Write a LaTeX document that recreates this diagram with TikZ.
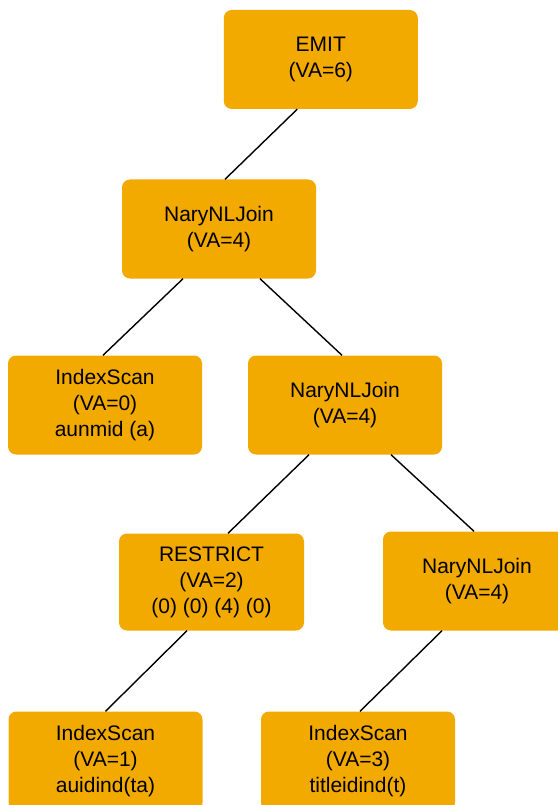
\documentclass[tikz,border=0pt]{standalone}
\usepackage{fontspec}
\setmainfont{Liberation Sans}
\usetikzlibrary{calc}
\definecolor{planorange}{RGB}{242,169,0}
\tikzset{
    opbox/.style={rectangle, rounded corners=8pt, fill=planorange, minimum width=194pt, minimum height=99pt, inner sep=0pt, align=center, font=\fontsize{21pt}{26pt}\selectfont},
    opline/.style={line width=1.4pt}
}
\begin{document}
\begin{tikzpicture}[x=1pt, y=-1pt]
        \useasboundingbox (0, 0) rectangle (557, 805);

        % Nodes
        \node[opbox] at (320.75, 59.5)  (emit)     {EMIT\\(VA=6)};
        \node[opbox] at (219, 229)  (join1)    {NaryNLJoin\\(VA=4)};
        \node[opbox] at (105, 405)  (scana)    {IndexScan\\(VA=0)\\aunmid (a)};
        \node[opbox] at (345, 405)  (join2)    {NaryNLJoin\\(VA=4)};
        \node[opbox, minimum width=185pt, minimum height=97pt] at (211.5, 582)  (restrict) {RESTRICT\\(VA=2)\\(0) (0) (4) (0)};
        \node[opbox, minimum width=188pt] at (477, 581)  (join3)    {NaryNLJoin\\(VA=4)};
        \node[opbox] at (105.5, 761)  (scanta)   {IndexScan\\(VA=1)\\auidind(ta)};
        \node[opbox] at (358, 761)  (scant)    {IndexScan\\(VA=3)\\titleidind(t)};

        % Edges
        \draw[opline] ($(emit.south)+(-23.5, 0)$) -- ($(join1.north)+(6, 0)$);
        \draw[opline] ($(join1.south)+(-36, 0)$) -- ($(scana.north)+(-2, 0)$);
        \draw[opline] ($(join1.south)+(41, 0)$) -- ($(join2.north)+(-3, 0)$);
        \draw[opline] ($(join2.south)+(-36, 0)$) -- ($(restrict.north)+(16.5, 0)$);
        \draw[opline] ($(join2.south)+(46, 0)$) -- ($(join3.north)+(-3, 0)$);
        \draw[opline] ($(restrict.south)+(-24.5, 0)$) -- ($(scanta.north)+(0, 0)$);
        \draw[opline] ($(join3.south)+(-35, 0)$) -- ($(scant.north)+(2, 0)$);

    \end{tikzpicture}
\end{document}
